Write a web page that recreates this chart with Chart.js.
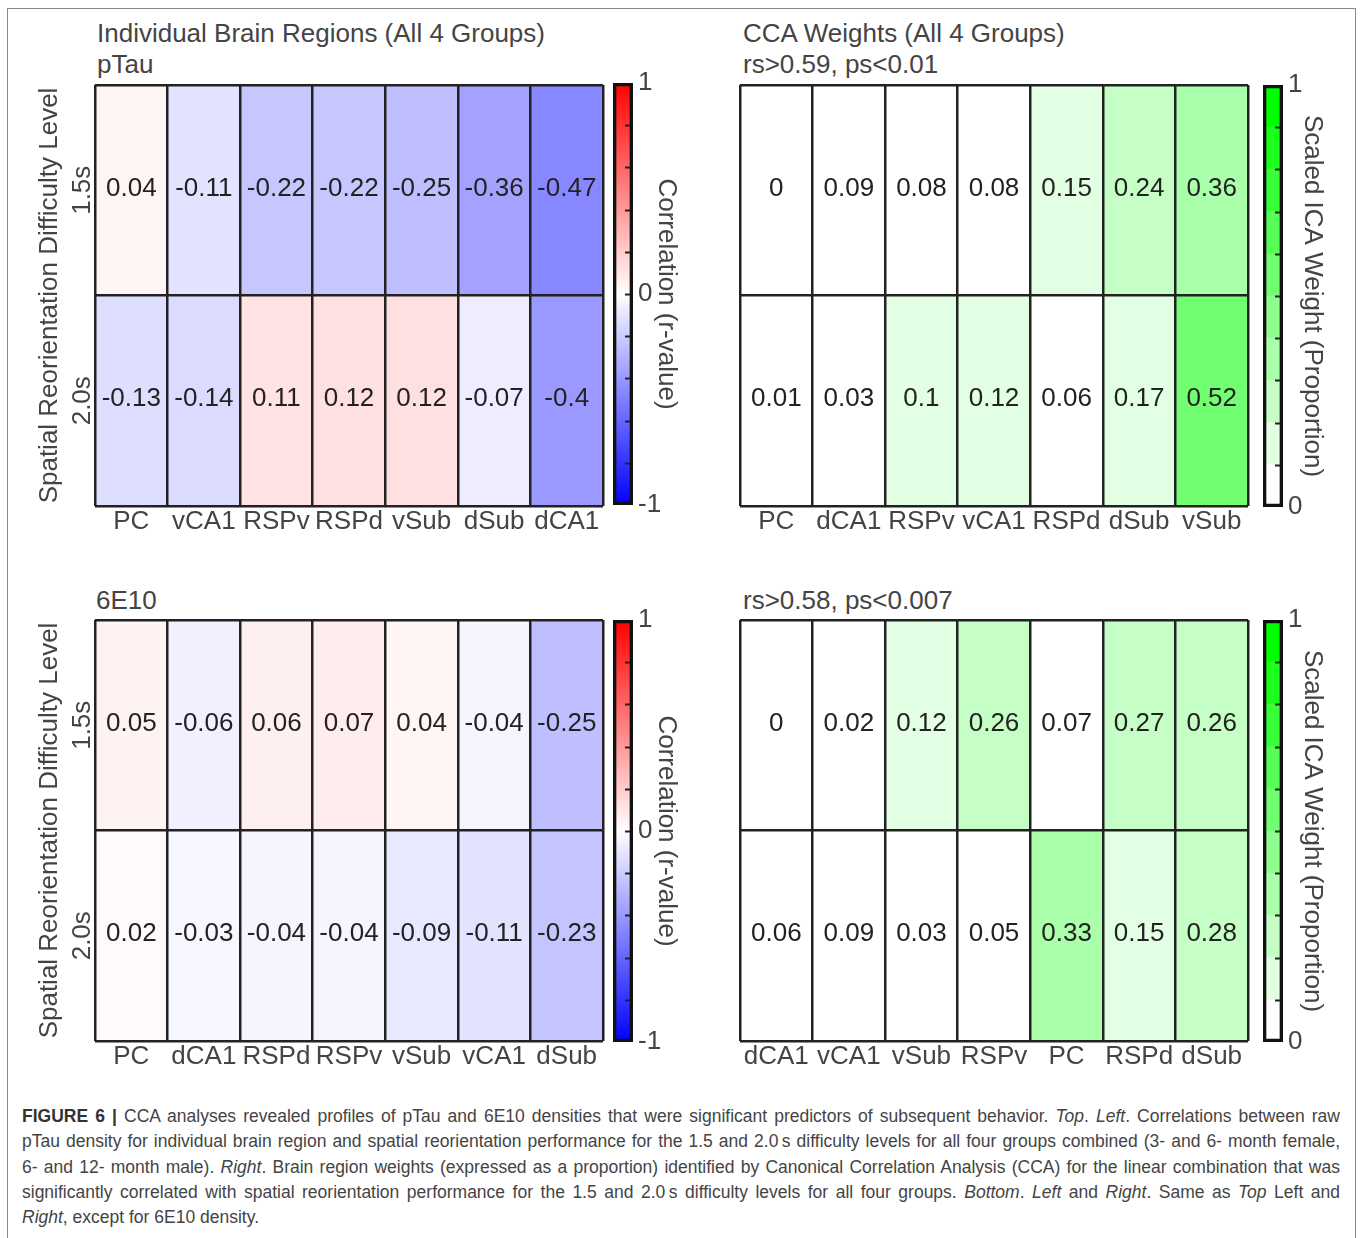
<!DOCTYPE html>
<html>
<head>
<meta charset="utf-8">
<script src="https://cdn.jsdelivr.net/npm/chart.js@4.4.0/dist/chart.umd.min.js"></script>
<style>
  body { margin: 0; background: #fff; width: 1360px; height: 1238px; overflow: hidden; position: relative;
         font-family: "Liberation Sans", Arial, sans-serif; }
  .frame { position: absolute; left: 7px; top: 8px; width: 1347px; height: 1280px; border: 1.5px solid #8a8a8a; }
  canvas { position: absolute; }
  .t { position: absolute; font-size: 26px; line-height: 30px; color: #444; white-space: nowrap; }
  .caption { position: absolute; left: 22px; top: 1104px; width: 1318px; font-size: 17.5px; line-height: 25.3px; color: #444; }
  .caption div { white-space: nowrap; text-align: justify; text-align-last: justify; }
  .caption div.last { text-align-last: left; }
  .caption b { color: #333; }
</style>
</head>
<body>
<div class="frame"></div>

<div class="t" style="left:97px; top:18px;">Individual Brain Regions (All 4 Groups)</div>
<div class="t" style="left:97px; top:49px;">pTau</div>
<div class="t" style="left:743px; top:18px;">CCA Weights (All 4 Groups)</div>
<div class="t" style="left:743px; top:49px;">rs&gt;0.59, ps&lt;0.01</div>
<div class="t" style="left:96px; top:585px;">6E10</div>
<div class="t" style="left:743px; top:585px;">rs&gt;0.58, ps&lt;0.007</div>

<canvas id="hmTL" width="587" height="471" style="left:20px; top:75px;"></canvas>
<canvas id="cbTL" width="76" height="448" style="left:608px; top:70px;"></canvas>
<canvas id="hmTR" width="516" height="471" style="left:736px; top:75px;"></canvas>
<canvas id="cbTR" width="76" height="448" style="left:1258px; top:72px;"></canvas>
<canvas id="hmBL" width="587" height="471" style="left:20px; top:610px;"></canvas>
<canvas id="cbBL" width="76" height="448" style="left:608px; top:607px;"></canvas>
<canvas id="hmBR" width="516" height="471" style="left:736px; top:610px;"></canvas>
<canvas id="cbBR" width="76" height="448" style="left:1258px; top:607px;"></canvas>

<div class="caption">
<div><b>FIGURE 6 |</b> CCA analyses revealed profiles of pTau and 6E10 densities that were significant predictors of subsequent behavior. <i>Top</i>. <i>Left</i>. Correlations between raw</div>
<div>pTau density for individual brain region and spatial reorientation performance for the 1.5 and 2.0&#8201;s difficulty levels for all four groups combined (3- and 6- month female,</div>
<div>6- and 12- month male). <i>Right</i>. Brain region weights (expressed as a proportion) identified by Canonical Correlation Analysis (CCA) for the linear combination that was</div>
<div>significantly correlated with spatial reorientation performance for the 1.5 and 2.0&#8201;s difficulty levels for all four groups. <i>Bottom</i>. <i>Left</i> and <i>Right</i>. Same as <i>Top</i> Left and</div>
<div class="last"><i>Right</i>, except for 6E10 density.</div>
</div>

<script>
// pTau, individual regions (correlation r)
const ptauRegions = ["PC", "vCA1", "RSPv", "RSPd", "vSub", "dSub", "dCA1"];
const ptauR15 = [0.04, -0.11, -0.22, -0.22, -0.25, -0.36, -0.47];
const ptauR20 = [-0.13, -0.14, 0.11, 0.12, 0.12, -0.07, -0.4];

// pTau, CCA weights
const ptauCcaRegions = ["PC", "dCA1", "RSPv", "vCA1", "RSPd", "dSub", "vSub"];
const ptauCca15 = [0, 0.09, 0.08, 0.08, 0.15, 0.24, 0.36];
const ptauCca20 = [0.01, 0.03, 0.1, 0.12, 0.06, 0.17, 0.52];

// 6E10, individual regions
const e10Regions = ["PC", "dCA1", "RSPd", "RSPv", "vSub", "vCA1", "dSub"];
const e10R15 = [0.05, -0.06, 0.06, 0.07, 0.04, -0.04, -0.25];
const e10R20 = [0.02, -0.03, -0.04, -0.04, -0.09, -0.11, -0.23];

// 6E10, CCA weights
const e10CcaRegions = ["dCA1", "vCA1", "vSub", "RSPv", "PC", "RSPd", "dSub"];
const e10Cca15 = [0, 0.02, 0.12, 0.26, 0.07, 0.27, 0.26];
const e10Cca20 = [0.06, 0.09, 0.03, 0.05, 0.33, 0.15, 0.28];

const rowLabels = ["1.5s", "2.0s"];
const corrTickLabels = [-1, 0, 1];
const weightTickLabels = [0, 1];

const FONT = '"Liberation Sans", Arial, sans-serif';
const FS = 26;

function corrColor(v) {
  if (v >= 0) {
    const c = Math.round(255 * (1 - v));
    return `rgb(255, ${c}, ${c})`;
  }
  const c = Math.round(255 * (1 + v));
  return `rgb(${c}, ${c}, 255)`;
}

// discrete 10-step white -> green map
function weightColor(v) {
  const level = Math.min(9, Math.floor(v * 10 + 1e-9));
  const c = Math.round(255 - level * 255 / 9);
  return `rgb(${c}, 255, ${c})`;
}

const cellText = {
  id: "cellText",
  afterDatasetsDraw(chart) {
    const ctx = chart.ctx;
    ctx.save();
    ctx.font = FS + "px " + FONT;
    ctx.fillStyle = "#222";
    ctx.textAlign = "center";
    ctx.textBaseline = "middle";
    chart.data.datasets.forEach((ds, i) => {
      chart.getDatasetMeta(i).data.forEach((bar, j) => {
        const { x, y, base } = bar.getProps(["x", "y", "base"], true);
        ctx.fillText(String(ds.values[j]), x, (y + base) / 2 - 1);
      });
    });
    ctx.restore();
  }
};

const rowText = {
  id: "rowText",
  afterDraw(chart, args, opts) {
    if (!opts.show) return;
    const ctx = chart.ctx;
    const y = chart.scales.y;
    ctx.save();
    ctx.font = FS + "px " + FONT;
    ctx.fillStyle = "#444";
    ctx.textAlign = "center";
    ctx.textBaseline = "middle";
    [1.5, 0.5].forEach((v, i) => {
      ctx.save();
      ctx.translate(chart.chartArea.left - 12, y.getPixelForValue(v));
      ctx.rotate(-Math.PI / 2);
      ctx.fillText(rowLabels[i], 0, 0);
      ctx.restore();
    });
    ctx.restore();
  }
};

function makeHeatmap(id, regions, row15, row20, colorFn, withY) {
  const rowSet = (vals, span) => ({
    data: vals.map(() => span),
    values: vals,
    backgroundColor: vals.map(colorFn),
    borderWidth: 0,
    grouped: false,
    barPercentage: 1,
    categoryPercentage: 1
  });
  new Chart(document.getElementById(id), {
    type: "bar",
    data: {
      labels: regions,
      datasets: [rowSet(row15, [1, 2]), rowSet(row20, [0, 1])]
    },
    options: {
      responsive: false,
      animation: false,
      layout: { padding: { top: 10, right: 4, left: withY ? 0 : 4, bottom: 0 } },
      plugins: { legend: { display: false }, tooltip: { enabled: false }, rowText: { show: withY } },
      scales: {
        x: {
          offset: true,
          grid: { offset: true, color: "#222", lineWidth: 2.5, drawTicks: false, z: 1 },
          border: { display: false },
          ticks: { font: { size: FS, family: FONT }, color: "#444", padding: 0, maxRotation: 0, autoSkip: false },
          afterFit(s) { s.height = 40; }
        },
        y: {
          min: 0, max: 2,
          ticks: { display: false, stepSize: 1 },
          grid: { color: "#222", lineWidth: 2.5, drawTicks: false, z: 1 },
          border: { display: false },
          title: {
            display: withY,
            text: "Spatial Reorientation Difficulty Level",
            font: { size: FS, family: FONT },
            color: "#444",
            padding: { top: 14, bottom: 0 }
          },
          afterFit(s) { s.width = withY ? 75 : 0; }
        }
      }
    },
    plugins: [cellText, rowText]
  });
}

const barTicks = {
  id: "barTicks",
  afterDatasetsDraw(chart) {
    const ctx = chart.ctx;
    const y = chart.scales.y;
    const right = chart.chartArea.right - 3;
    ctx.save();
    ctx.strokeStyle = "#222";
    ctx.lineWidth = 2;
    ctx.beginPath();
    y.ticks.forEach((t) => {
      if (t.value <= y.min + 1e-6 || t.value >= y.max - 1e-6) return;
      const py = Math.round(y.getPixelForValue(t.value)) + 0.5;
      ctx.moveTo(right, py);
      ctx.lineTo(right - 5, py);
    });
    ctx.stroke();
    ctx.restore();
  }
};

function makeColorbar(id, min, max, step, shown, fills, title, padTop, axisW) {
  const outline = {
    data: [[min, max]],
    backgroundColor: "rgba(0,0,0,0)",
    borderColor: "#111",
    borderWidth: 3,
    borderSkipped: false,
    grouped: false,
    barPercentage: 1,
    categoryPercentage: 1
  };
  const fillSets = fills.map((f) => ({
    data: [[f.lo, f.hi]],
    backgroundColor: f.color,
    borderWidth: 0,
    grouped: false,
    barPercentage: 1,
    categoryPercentage: 1
  }));
  new Chart(document.getElementById(id), {
    type: "bar",
    data: { labels: [""], datasets: [outline, ...fillSets] },
    options: {
      responsive: false,
      animation: false,
      layout: { padding: { top: padTop, bottom: 448 - padTop - 422, left: 5, right: 51 - axisW } },
      plugins: { legend: { display: false }, tooltip: { enabled: false } },
      scales: {
        x: { display: false },
        y: {
          position: "right",
          min: min, max: max,
          grid: { display: false, drawTicks: false },
          border: { display: false },
          ticks: {
            stepSize: step,
            autoSkip: false,
            padding: 5,
            color: "#444",
            font: { size: FS, family: FONT },
            callback: (v) => (shown.some((s) => Math.abs(s - v) < 1e-6) ? String(Math.round(v)) : "")
          },
          title: {
            display: true,
            text: title,
            color: "#444",
            font: { size: FS, family: FONT },
            padding: { top: 2, bottom: 0 }
          },
          afterFit(s) {
            s.width = axisW;
            s.paddingTop = 0;
            s.paddingBottom = 0;
          }
        }
      }
    },
    plugins: [barTicks]
  });
}

const corrFill = [{
  lo: -1, hi: 1,
  color: (c) => {
    const chart = c.chart;
    if (!chart.chartArea) return "#fff";
    const y = chart.scales.y;
    const g = chart.ctx.createLinearGradient(0, y.getPixelForValue(-1), 0, y.getPixelForValue(1));
    g.addColorStop(0, corrColor(-1));
    g.addColorStop(0.5, corrColor(0));
    g.addColorStop(1, corrColor(1));
    return g;
  }
}];

const weightFill = [];
for (let i = 0; i < 10; i++) {
  weightFill.push({ lo: i / 10, hi: (i + 1) / 10, color: weightColor(i / 10) });
}

makeHeatmap("hmTL", ptauRegions, ptauR15, ptauR20, corrColor, true);
makeHeatmap("hmTR", ptauCcaRegions, ptauCca15, ptauCca20, weightColor, false);
makeHeatmap("hmBL", e10Regions, e10R15, e10R20, corrColor, true);
makeHeatmap("hmBR", e10CcaRegions, e10Cca15, e10Cca20, weightColor, false);

makeColorbar("cbTL", -1, 1, 0.2, corrTickLabels, corrFill, "Correlation (r-value)", 13, 51);
makeColorbar("cbTR", 0, 1, 0.1, weightTickLabels, weightFill, "Scaled ICA Weight (Proportion)", 13, 47);
makeColorbar("cbBL", -1, 1, 0.2, corrTickLabels, corrFill, "Correlation (r-value)", 13, 51);
makeColorbar("cbBR", 0, 1, 0.1, weightTickLabels, weightFill, "Scaled ICA Weight (Proportion)", 13, 47);
</script>
</body>
</html>
